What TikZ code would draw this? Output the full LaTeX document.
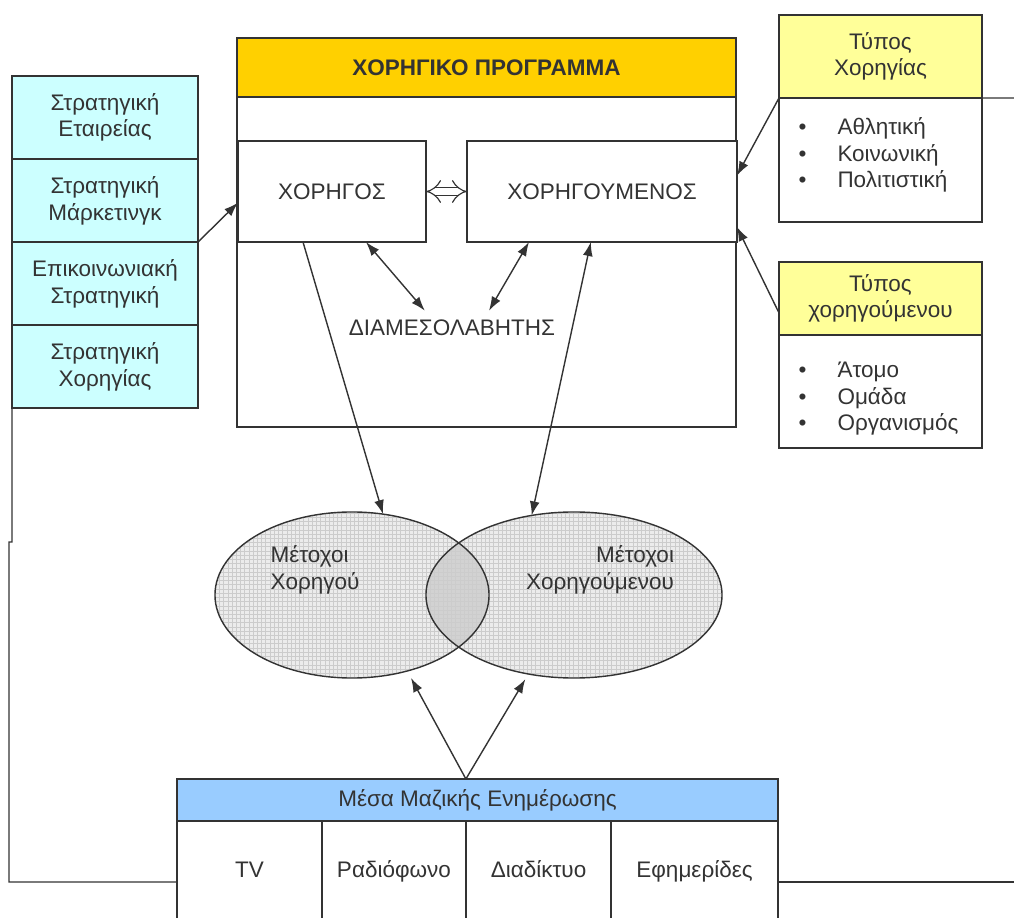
\documentclass[tikz,border=0pt]{standalone}
\usepackage{fontspec}
\setmainfont{Liberation Sans}
\usepackage{tikz}
\usetikzlibrary{positioning,shapes.geometric,arrows.meta,patterns,calc}

\definecolor{stratcyan}{HTML}{CCFFFF}
\definecolor{progold}{HTML}{FFD000}
\definecolor{typeyellow}{HTML}{FFFF99}
\definecolor{mediablue}{HTML}{99CCFF}
\definecolor{linegray}{HTML}{333333}

\tikzset{
  every node/.style={font=\fontsize{16}{19}\selectfont},
  stratbox/.style={draw, fill=stratcyan, minimum width=4.65cm, minimum height=2.075cm,
    align=center, inner sep=0pt, outer sep=0pt},
  titlebox/.style={draw, fill=progold, minimum width=12.475cm, minimum height=1.475cm,
    inner sep=0pt, outer sep=0pt, font=\fontsize{16}{19}\selectfont\bfseries},
  progbox/.style={draw, minimum width=12.475cm, minimum height=8.25cm, inner sep=0pt, outer sep=0pt},
  partybox/.style={draw, fill=white, minimum height=2.525cm, inner sep=0pt, outer sep=0pt},
  typehead/.style={draw, fill=typeyellow, minimum width=5.075cm, align=center, inner sep=0pt, outer sep=0pt},
  typelist/.style={draw, minimum width=5.075cm, inner sep=0pt, outer sep=0pt},
  listtext/.style={anchor=north west, inner sep=0pt},
  stake/.style={ellipse, fill=gray!15, inner sep=0pt, outer sep=0pt, minimum height=4.15cm},
  mediahead/.style={draw, fill=mediablue, minimum width=15.025cm, minimum height=1.05cm, inner sep=0pt, outer sep=0pt},
  mediacell/.style={draw, minimum height=2.525cm, text height=11.5pt, text depth=3.5pt, inner sep=0pt, outer sep=0pt},
  arr/.style={-{Latex[length=10pt,width=7pt]}},
  darr/.style={{Latex[length=10pt,width=7pt]}-{Latex[length=10pt,width=7pt]}},
  dblarr/.style={double, double distance=5pt, line width=0.8pt, {Implies}-{Implies}}
}

\begin{document}
\begin{tikzpicture}[x=0.025cm, y=-0.025cm, line width=1pt, color=linegray]
  \useasboundingbox (0,0) rectangle (1014,918);

  % strategy stack
  \node[stratbox] (strat1) at (105,117.5) {Στρατηγική\\Εταιρείας};
  \node[stratbox, below=0pt of strat1] (strat2) {Στρατηγική\\Μάρκετινγκ};
  \node[stratbox, below=0pt of strat2] (strat3) {Επικοινωνιακή\\Στρατηγική};
  \node[stratbox, below=0pt of strat3] (strat4) {Στρατηγική\\Χορηγίας};
  \draw[line width=1.6pt] (strat3.north west) -- (strat3.north east);

  % sponsorship programme
  \node[titlebox] (prog) at (486.5,67.5) {ΧΟΡΗΓΙΚΟ ΠΡΟΓΡΑΜΜΑ};
  \node[progbox, below=0pt of prog] (progbody) {};
  \node[partybox, minimum width=4.7cm] (hor) at (332,191.5) {ΧΟΡΗΓΟΣ};
  \node[partybox, minimum width=6.75cm] (horm) at (602,191.5) {ΧΟΡΗΓΟΥΜΕΝΟΣ};
  \node (med) at (452,328) {ΔΙΑΜΕΣΟΛΑΒΗΤΗΣ};
  \draw[dblarr] (hor) -- (horm);

  % type boxes
  \node[typehead, minimum height=2.075cm] (tsp) at (880.5,56.5) {Τύπος\\Χορηγίας};
  \node[typelist, minimum height=3.1cm, below=0pt of tsp] (tsplist) {};
  \node[listtext] (tspitems) at ([xshift=0.475cm,yshift=-0.425cm]tsplist.north west)
    {\begin{tabular}{@{}l@{\hspace{22pt}}l@{}}
      \textbullet & Αθλητική\\
      \textbullet & Κοινωνική\\
      \textbullet & Πολιτιστική
    \end{tabular}};
  \node[typehead, minimum height=1.825cm] (tme) at (880.5,298.5) {Τύπος\\χορηγούμενου};
  \node[typelist, minimum height=2.825cm, below=0pt of tme] (tmelist) {};
  \node[listtext] (tmeitems) at ([xshift=0.475cm,yshift=-0.575cm]tmelist.north west)
    {\begin{tabular}{@{}l@{\hspace{22pt}}l@{}}
      \textbullet & Άτομο\\
      \textbullet & Ομάδα\\
      \textbullet & Οργανισμός
    \end{tabular}};
  \coordinate (redge) at (1014,98);
  \draw (tsp.south east) -- (redge);

  % stakeholders
  \node[stake, minimum width=6.85cm] (lell) at (352,595) {};
  \node[stake, minimum width=7.4cm] (rell) at (574,595) {};
  \begin{scope}
    \clip (lell.center) ellipse [x radius=3.425cm, y radius=2.075cm];
    \fill[gray!35] (rell.center) ellipse [x radius=3.7cm, y radius=2.075cm];
  \end{scope}
  \fill[pattern=grid, pattern color=gray!40] (lell.center) ellipse [x radius=3.425cm, y radius=2.075cm];
  \fill[pattern=grid, pattern color=gray!40] (rell.center) ellipse [x radius=3.7cm, y radius=2.075cm];
  \draw (lell.center) ellipse [x radius=3.425cm, y radius=2.075cm];
  \draw (rell.center) ellipse [x radius=3.7cm, y radius=2.075cm];
  \node[align=left] (lelltext) at (315,570) {Μέτοχοι\\Χορηγού};
  \node[align=right] (relltext) at (600,570) {Μέτοχοι\\Χορηγούμενου};

  % mass media
  \node[mediahead] (mme) at (477.5,800) {Μέσα Μαζικής Ενημέρωσης};
  \node[mediacell, minimum width=3.625cm, below right=0pt of mme.south west] (tv) {TV};
  \node[mediacell, minimum width=3.6cm, right=0pt of tv] (radio) {Ραδιόφωνο};
  \node[mediacell, minimum width=3.625cm, right=0pt of radio] (net) {Διαδίκτυο};
  \node[mediacell, minimum width=4.175cm, right=0pt of net] (paper) {Εφημερίδες};

  % frame lines
  \coordinate (lk1) at (12,542);
  \coordinate (lk2) at (9,542);
  \coordinate (lk3) at (9,882);
  \coordinate (rk) at (1014,882);
  \draw (strat4.south west) -- (lk1) -- (lk2) -- (lk3) -- (tv.west |- lk3);
  \draw (paper.east |- lk3) -- (rk);

  % arrows
  \draw[arr] (strat3.north east) -- ([yshift=-0.28cm]hor.west);
  \draw[arr] (tsplist.north west) -- ([yshift=0.4cm]horm.east);
  \draw[arr] ([yshift=-0.36cm]tme.west) -- ([yshift=0.375cm]horm.south east);
  \draw[darr] ([xshift=0.85cm]hor.south) -- ([xshift=-0.68cm,yshift=0.1cm]med.north);
  \draw[darr] ([xshift=-1.825cm]horm.south) -- ([xshift=0.925cm,yshift=0.1cm]med.north);
  \draw[arr] ([xshift=-0.725cm]hor.south) -- (lell.69);
  \draw[darr] (rell.118) -- ([xshift=-0.28cm]horm.south);
  \coordinate (msrc) at ([xshift=-0.29cm]mme.north);
  \draw[arr, shorten >=0.2cm] (msrc) -- (lell.-54);
  \draw[arr, shorten >=0.15cm] (msrc) -- (rell.240);
\end{tikzpicture}
\end{document}
